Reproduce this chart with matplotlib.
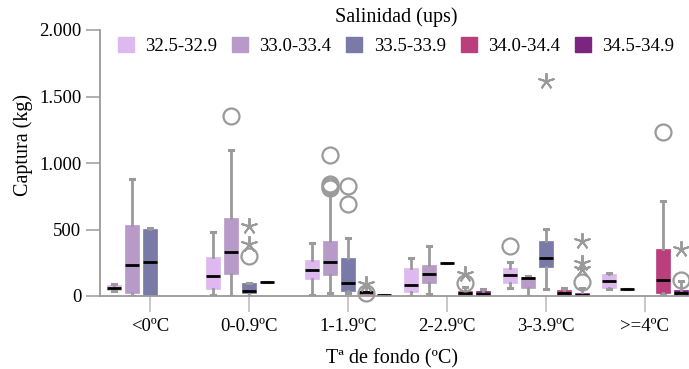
import matplotlib
matplotlib.use("Agg")
import matplotlib.pyplot as plt
from matplotlib.patches import Patch

# ---------------- data ----------------
categories = ["<0ºC", "0-0.9ºC", "1-1.9ºC", "2-2.9ºC", "3-3.9ºC", ">=4ºC"]
series = ["32.5-32.9", "33.0-33.4", "33.5-33.9", "34.0-34.4", "34.5-34.9"]
colors = ["#DDB9F0", "#B89AC8", "#7A7AA8", "#B93F7D", "#7B2480"]

# box stats per category: (whislo, q1, med, q3, whishi); None = no data
s1_stats = [(40, 45, 62, 80, 88), (5, 55, 153, 293, 483), (5, 128, 198, 270, 401),
            (0, 33, 80, 208, 283), (60, 100, 158, 210, 253), (55, 62, 115, 165, 170)]
s2_stats = [(2, 25, 230, 533, 879), (0, 168, 333, 586, 1094), (20, 158, 255, 413, 771),
            (17, 98, 163, 230, 378), (0, 60, 133, 140, 153), (50, 50, 50, 50, 50)]
s3_stats = [(0, 0, 253, 501, 508), (0, 20, 40, 98, 98), (20, 40, 95, 285, 436),
            (251, 251, 251, 251, 251), (53, 220, 283, 413, 503), None]
s4_stats = [None, (103, 103, 103, 103, 103), (10, 17, 28, 40, 65),
            (8, 8, 20, 38, 70), (0, 8, 25, 47, 60), (5, 20, 118, 353, 714)]
s5_stats = [None, None, (8, 8, 8, 8, 8),
            (5, 5, 13, 38, 55), (0, 0, 5, 22, 58), (5, 5, 20, 45, 113)]

# outliers (circles) and extremes (stars) per category
s1_circles = [[], [], [], [], [376], []]
s2_circles = [[], [1352], [1057, 840, 830, 815], [], [], []]
s3_circles = [[], [300], [826, 691], [], [], []]
s4_circles = [[], [], [20], [100], [], [1232]]
s5_circles = [[], [], [], [], [105], [120]]

s1_stars = [[], [], [], [], [], []]
s2_stars = [[], [], [], [], [], []]
s3_stars = [[], [528, 390], [], [], [1620], []]
s4_stars = [[], [], [90], [163], [], []]
s5_stars = [[], [], [], [], [413, 245, 200], [355]]

yticks = [0, 500, 1000, 1500, 2000]
ytick_labels = ["0", "500", "1.000", "1.500", "2.000"]

all_stats = [s1_stats, s2_stats, s3_stats, s4_stats, s5_stats]
all_circles = [s1_circles, s2_circles, s3_circles, s4_circles, s5_circles]
all_stars = [s1_stars, s2_stars, s3_stars, s4_stars, s5_stars]

# ---------------- plot ----------------
plt.rcParams["font.family"] = ["Liberation Serif", "DejaVu Serif"]
W, H = 689, 369
fig = plt.figure(figsize=(W / 100, H / 100), dpi=100)
ax = fig.add_axes([100 / W, 73 / H, (W - 100) / W, 266 / H])

gray = "#9a9a9a"
offset = 0.18
bw = 0.14

for si, (stats, col) in enumerate(zip(all_stats, colors)):
    bxs, pos = [], []
    for ci, st in enumerate(stats):
        if st is None:
            continue
        wl, q1, med, q3, wh = st
        bxs.append(dict(whislo=wl, q1=q1, med=med, q3=q3, whishi=wh, fliers=[]))
        pos.append(ci + (si - 2) * offset)
    ax.bxp(bxs, positions=pos, widths=bw, patch_artist=True, showfliers=False,
           capwidths=0.04,
           boxprops=dict(facecolor=col, edgecolor=col, linewidth=0.5),
           medianprops=dict(color="black", linewidth=2, solid_capstyle="butt"),
           whiskerprops=dict(color=gray, linewidth=2),
           capprops=dict(color=gray, linewidth=2.2),
           manage_ticks=False)
    for ci in range(len(categories)):
        x = ci + (si - 2) * offset
        for v in all_circles[si][ci]:
            ax.plot([x], [v], marker="o", ms=11.5, mfc="none", mec=gray, mew=1.6,
                    clip_on=False, zorder=4)
        for v in all_stars[si][ci]:
            ax.plot([x], [v], marker=(5, 2, 0), ms=12, mec=gray, mew=1.4,
                    clip_on=False, zorder=4)

ax.set_xlim(-0.505, (W - 150) / 99)
ax.set_ylim(0, 2000)
ax.set_xticks(range(len(categories)))
ax.set_xticklabels(categories, fontsize=13.5)
ax.set_yticks(yticks)
ax.set_yticklabels(ytick_labels, fontsize=13.5)
for s in ["top", "right"]:
    ax.spines[s].set_visible(False)
for s in ["left", "bottom"]:
    ax.spines[s].set_color(gray)
    ax.spines[s].set_linewidth(1.3)
ax.tick_params(axis="x", length=11.5, width=1.4, color="#c8c8c8", pad=4)
ax.tick_params(axis="y", length=10, width=1.3, color="#aaaaaa", pad=3.5)

fig.text(23 / W, 1 - 145 / H, "Captura (kg)", rotation=90, ha="center",
         va="center", fontsize=14.5)
fig.text(392 / W, 1 - 359 / H, "Tª de fondo (ºC)", ha="center", va="center",
         fontsize=14.5)

handles = [Patch(facecolor=c, edgecolor=c) for c in colors]
leg = fig.legend(handles, series, loc="upper center", ncol=5, frameon=False,
                 bbox_to_anchor=(396 / W, 1 - 4 / H), fontsize=13.5,
                 title="Salinidad (ups)", title_fontsize=14.5,
                 handlelength=0.85, handleheight=0.85, handletextpad=0.6,
                 columnspacing=0.8, borderaxespad=0, borderpad=0.2)

fig.savefig("out.png", dpi=100)
